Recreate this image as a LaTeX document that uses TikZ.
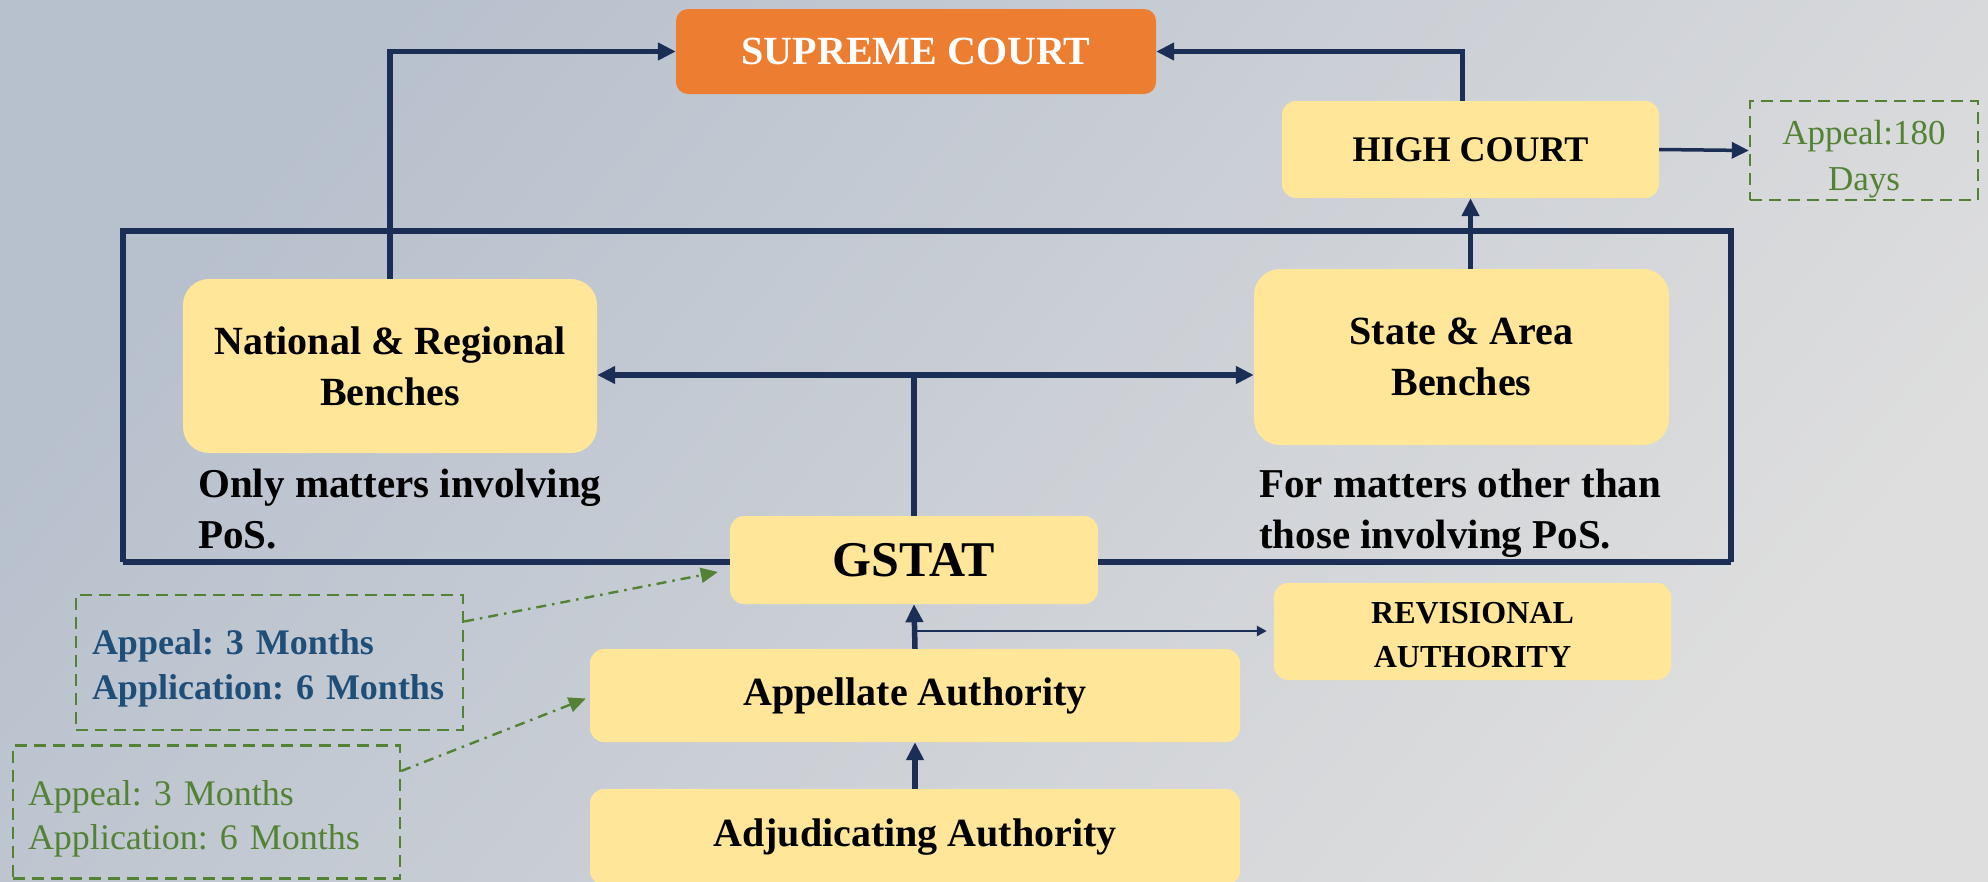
\documentclass[tikz,border=0pt]{standalone}
\usepackage{fontspec}
\setmainfont{Liberation Serif}
\usetikzlibrary{arrows.meta,calc}
\definecolor{bgA}{HTML}{B7C0CD}
\definecolor{bgB}{HTML}{DEDEDE}
\definecolor{navy}{HTML}{1B2E55}
\definecolor{gold}{HTML}{FFE699}
\definecolor{orng}{HTML}{ED7D31}
\definecolor{grn}{HTML}{548235}
\definecolor{blu}{HTML}{1F4E79}
\frenchspacing
\tikzset{
  box/.style={fill=gold, rounded corners=14pt, inner sep=0pt, align=center, font=\bfseries\fontsize{40}{51}\selectfont, text=black},
  arr/.style={draw=navy, line width=5.5pt, -{Triangle[length=18pt,width=17pt]}},
  thinarr/.style={draw=navy, line width=2.8pt, -{Triangle[length=10pt,width=10pt]}},
  frame/.style={draw=navy, line width=5.5pt},
  dbox/.style={draw=grn, line width=2.4pt, dash pattern=on 12pt off 7pt, inner sep=0pt, align=left},
  darr/.style={draw=grn, line width=2.4pt, dash pattern=on 10pt off 6pt on 2.5pt off 6pt, -{Triangle[length=17pt,width=15pt]}},
  note/.style={inner sep=0pt, align=left, font=\bfseries\fontsize{41}{51}\selectfont, text=black}
}
\begin{document}
\begin{tikzpicture}[x=1pt,y=-1pt]
\useasboundingbox (0,0) rectangle (1988,881);
\shade[top color=bgA, bottom color=bgB, shading angle=50] (0,0) rectangle (1988,881);

% frame corners
\coordinate (f1) at (123,562);
\coordinate (f2) at (123,231);
\coordinate (f3) at (1731,231);
\coordinate (f4) at (1731,562);

% nodes
\node[box, fill=orng, rounded corners=12pt, minimum width=480pt, minimum height=85pt, text=white, font=\bfseries\fontsize{40}{48}\selectfont] (sc) at (916,51.5) {SUPREME COURT};
\node[box, minimum width=377pt, minimum height=97pt, font=\bfseries\fontsize{36}{44}\selectfont] (hc) at (1470.5,149.5) {HIGH COURT};
\node[dbox, align=center, minimum width=228pt, minimum height=99pt, text=grn, font=\fontsize{35}{46}\selectfont] (a180) at (1864,150.5) {\rule{0pt}{42pt}Appeal:180\\Days};
\node[box, rounded corners=26pt, minimum width=414pt, minimum height=174pt] (nr) at (390,366) {National \& Regional\\Benches};
\node[box, rounded corners=26pt, minimum width=415pt, minimum height=176pt] (sa) at (1461.5,357) {State \& Area\\Benches};
\node[note, anchor=north west] (t1) at (198,469) {Only matters involving\\PoS.};
\node[note, anchor=north west] (t2) at (1259,469) {For matters other than\\those involving PoS.};

% frame
\draw[frame] (f1) -- (f2) -- (f3) -- (f4);

\node[box, minimum width=368pt, minimum height=88pt, font=\bfseries\fontsize{50}{60}\selectfont] (gstat) at (914,560) {GSTAT};
\draw[frame] (f1) -- (gstat.west |- f1);
\draw[frame] (gstat.east |- f4) -- (f4);

\node[box, minimum width=397pt, minimum height=97pt, font=\bfseries\fontsize{32}{44}\selectfont] (rev) at (1472.5,631.5) {\rule{0pt}{28pt}REVISIONAL\\AUTHORITY};
\node[box, minimum width=650pt, minimum height=93pt] (app) at (915,695.5) {Appellate Authority};
\node[box, minimum width=650pt, minimum height=96pt] (adj) at (915,837) {Adjudicating Authority};

\node[dbox, minimum width=387pt, minimum height=135pt, text width=355pt, text=blu, font=\bfseries\fontsize{36}{45}\selectfont] (d1) at (269.5,662.5) {\rule{0pt}{36pt}Appeal: 3 Months\\Application: 6 Months};
\node[dbox, minimum width=387pt, minimum height=133pt, text width=357pt, text=grn, font=\fontsize{36}{44}\selectfont] (d2) at (206.5,812) {\rule{0pt}{38pt}Appeal: 3 Months\\Application: 6 Months};

% connectors
\draw[arr] (nr.north) |- (sc.west);
\draw[arr] ([xshift=-8pt]hc.north) |- (sc.east);
\draw[arr] (hc.south |- sa.north) -- (hc.south);
\draw[line width=3.5pt, draw=navy, -{Triangle[length=17pt,width=16pt]}] (hc.east) -- (a180.west);

\coordinate (j) at (914,375);
\draw[frame] (gstat.north) -- (j);
\draw[arr] (j) -- (j -| nr.east);
\draw[arr] (j) -- (j -| sa.west);

\draw[arr] (app.north) -- (gstat.south);
\draw[arr] (adj.north) -- (app.south);
\coordinate (r) at (915,631);
\draw[thinarr] (r) -- ([xshift=-7pt]rev.west |- r);

\draw[darr] ([yshift=41pt]d1.east) -- ([xshift=-12pt,yshift=-12pt]gstat.west);
\draw[darr] ([yshift=41pt]d2.east) -- ([xshift=-4pt,yshift=-3pt]app.west);
\end{tikzpicture}
\end{document}
